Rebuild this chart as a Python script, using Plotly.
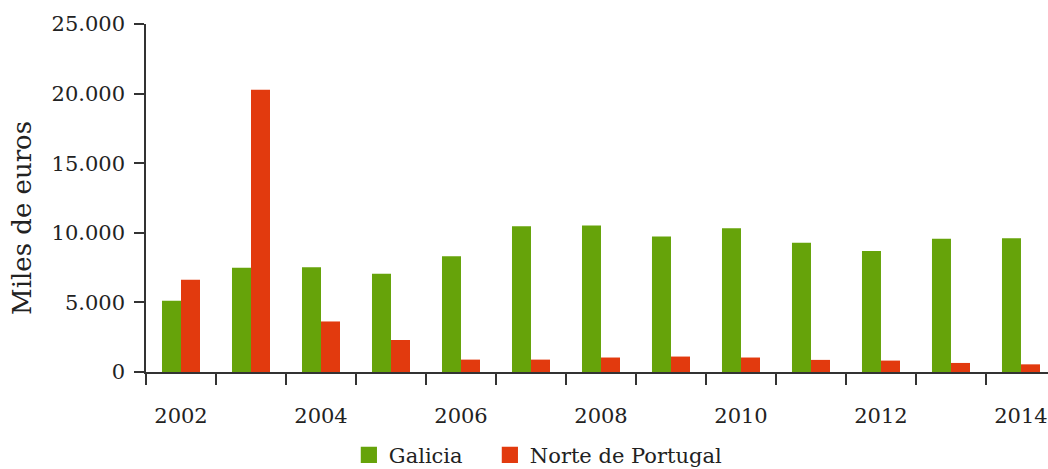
import plotly.graph_objects as go

# Data (miles de euros)
years = [str(y) for y in range(2002, 2015)]
galicia = [5110, 7490, 7520, 7060, 8310, 10470, 10520, 9730, 10330, 9290, 8700, 9580, 9610]
norte = [6630, 20270, 3630, 2300, 890, 890, 1040, 1110, 1040, 870, 820, 650, 550]
tick_text = [y if int(y) % 2 == 0 else "" for y in years]
y_ticks = [0, 5000, 10000, 15000, 20000, 25000]

font_family = "DejaVu Serif"
text_color = "#222222"
axis_color = "#333333"

fig = go.Figure()

fig.add_trace(go.Bar(
    x=years,
    y=galicia,
    name="Galicia",
    legendwidth=96,
    marker=dict(color="#66a30a", line=dict(width=0))
))

fig.add_trace(go.Bar(
    x=years,
    y=norte,
    name="Norte de Portugal",
    marker=dict(color="#e23a0e", line=dict(width=0))
))

fig.update_layout(
    width=1048,
    height=469,
    margin=dict(l=146, r=0, t=24, b=97, autoexpand=False),
    paper_bgcolor="white",
    plot_bgcolor="white",
    barmode="group",
    bargap=0.457,
    bargroupgap=0,
    separators=",.",
    font=dict(family=font_family, size=21, color=text_color),
    showlegend=True,
    legend=dict(
        orientation="h",
        x=0.435,
        xanchor="center",
        y=-0.239,
        yanchor="middle",
        font=dict(size=21),
        tracegroupgap=0
    )
)

# y axis title placed a bit below the plot centre, as in the source
fig.add_annotation(
    text="Miles de euros",
    textangle=-90,
    xref="paper", yref="paper",
    x=-0.1375, y=0.4425,
    xanchor="center", yanchor="middle",
    showarrow=False,
    font=dict(size=26, color=text_color)
)

fig.update_xaxes(
    type="category",
    automargin=False,
    range=[-0.5, 12.386],
    tickmode="array",
    tickvals=years,
    ticktext=tick_text,
    tickson="boundaries",
    ticks="outside",
    ticklen=11,
    tickwidth=1.5,
    tickcolor=axis_color,
    showline=True,
    linecolor=axis_color,
    linewidth=1.5,
    showgrid=False,
    ticklabelstandoff=24
)

fig.update_yaxes(
    automargin=False,
    range=[0, 25000],
    tickmode="array",
    tickvals=y_ticks,
    tickformat=",.0f",
    ticks="outside",
    ticklen=10,
    tickwidth=1.5,
    tickcolor=axis_color,
    showline=True,
    linecolor=axis_color,
    linewidth=1.5,
    showgrid=False,
    zeroline=False,
    ticklabelstandoff=5
)

# no page margin, and slightly bigger legend squares like the source
js = """
document.body.style.margin = '0';
document.querySelectorAll('.legendpoints path.legendundefined').forEach(function (p) {
    var t = p.getAttribute('transform') || '';
    p.setAttribute('transform', t + ' scale(1.35)');
});
"""

fig.write_html(
    "out.html",
    config={"displayModeBar": False},
    post_script=js
)
